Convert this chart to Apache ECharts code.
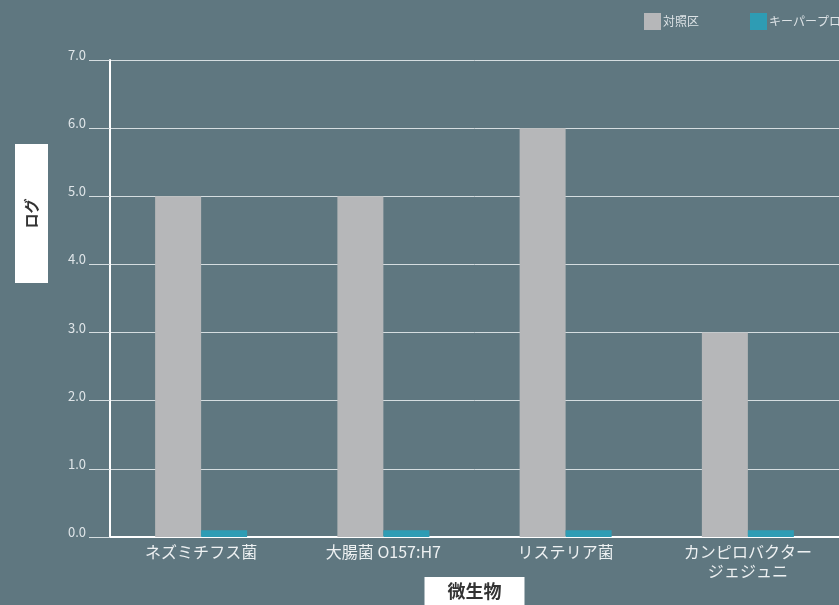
<!DOCTYPE html>
<html>
<head>
<meta charset="utf-8">
<script src="https://cdn.jsdelivr.net/npm/echarts@6/dist/echarts.min.js"></script>
<style>
html,body{margin:0;padding:0;background:#5f7780;}
#c{width:839px;height:605px;}
</style>
</head>
<body>
<div id="c"></div>
<script>
var categories = ['ネズミチフス菌', '大腸菌 O157:H7', 'リステリア菌', 'カンピロバクター\nジェジュニ'];
var seriesNames = ['対照区', 'キーパープロテクト'];
var controlValues = [5.0, 5.0, 6.0, 3.0];
var keeperValues = [0.1, 0.1, 0.1, 0.1];
var yTickLabels = ['0.0', '1.0', '2.0', '3.0', '4.0', '5.0', '6.0', '7.0'];
var yAxisTitle = 'ログ';
var xAxisTitle = '微生物';

var FONT = '"Noto Sans CJK JP", "Noto Sans", sans-serif';
var chart = echarts.init(document.getElementById('c'), null, {renderer: 'canvas'});
chart.setOption({
  backgroundColor: '#5f7780',
  animation: false,
  textStyle: {fontFamily: FONT},
  legend: {
    orient: 'horizontal',
    left: 644, top: 13, width: 400,
    padding: 0,
    itemWidth: 17, itemHeight: 17, itemGap: 51,
    icon: 'rect',
    textStyle: {color: '#dde3e6', fontSize: 12, fontFamily: FONT, padding: [0, 0, 0, -3]},
    data: seriesNames
  },
  grid: {left: 110, right: 0, top: 60, bottom: 68, containLabel: false, outerBoundsMode: 'none'},
  xAxis: {
    type: 'category',
    data: categories,
    axisLine: {show: true, lineStyle: {color: '#ffffff', width: 2}},
    axisTick: {show: false},
    axisLabel: {color: '#eef1f2', fontSize: 16, fontFamily: FONT, margin: 5, lineHeight: 19, interval: 0},
    name: xAxisTitle,
    nameLocation: 'middle',
    nameGap: 40,
    nameMoveOverlap: false,
    nameTextStyle: {
      color: '#333333', fontSize: 18, fontWeight: 'bold', fontFamily: FONT,
      verticalAlign: 'top',
      backgroundColor: '#ffffff', padding: [5, 23, 10, 23]
    }
  },
  yAxis: {
    type: 'value',
    min: 0, max: 7, interval: 1,
    axisLine: {show: true, lineStyle: {color: '#ffffff', width: 2}},
    axisTick: {show: true, length: 21, lineStyle: {color: '#d5dde0', width: 1}},
    splitLine: {show: true, lineStyle: {color: '#d5dde0', width: 1}},
    axisLabel: {
      color: '#dfe5e8', fontSize: 13, fontFamily: FONT, margin: 24,
      verticalAlign: 'bottom', lineHeight: 14, padding: [0, 0, -2, 0],
      formatter: function (v) { return yTickLabels[Math.round(v)]; }
    }
  },
  graphic: [
    {type: 'rect', left: 15, top: 144, shape: {width: 33, height: 139}, style: {fill: '#ffffff'}, z: 10},
    {type: 'text', x: 31.5, y: 213.5, rotation: Math.PI / 2,
     style: {text: yAxisTitle, fill: '#333333', font: 'bold 15px ' + FONT, align: 'center', verticalAlign: 'middle'}, z: 11}
  ],
  series: [
    {name: seriesNames[0], type: 'bar', data: controlValues, barWidth: 46, barGap: '0%', itemStyle: {color: '#b6b7b9'}},
    {name: seriesNames[1], type: 'bar', data: keeperValues, barWidth: 46, barGap: '0%', itemStyle: {color: '#2e9cb4'}}
  ]
});
</script>
</body>
</html>
